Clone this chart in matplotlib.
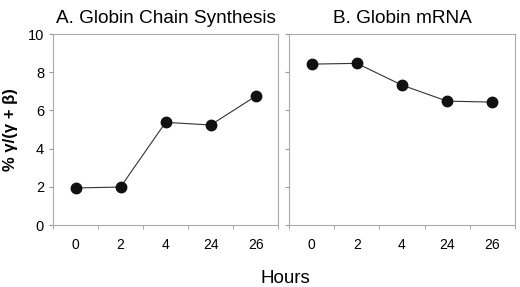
import matplotlib.pyplot as plt
import numpy as np

plt.rcParams["font.family"] = ["Liberation Sans", "DejaVu Sans"]

hours = ["0", "2", "4", "24", "26"]
chain_synthesis = [1.94, 1.99, 5.38, 5.24, 6.75]
globin_mrna = [8.43, 8.47, 7.33, 6.49, 6.44]

fig = plt.figure(figsize=(5.2, 2.87), dpi=100)
ax_a = fig.add_axes([0.102, 0.216, 0.433, 0.665])
ax_b = fig.add_axes([0.556, 0.216, 0.434, 0.665])

x = np.arange(len(hours))
for ax, vals, title in [
    (ax_a, chain_synthesis, "A. Globin Chain Synthesis"),
    (ax_b, globin_mrna, "B. Globin mRNA"),
]:
    ax.plot(x, vals, color="#333333", lw=0.8, marker="o", ms=7.5,
            mfc="#111111", mec="#111111")
    ax.set_xlim(-0.5, len(hours) - 0.5)
    ax.set_ylim(0, 10)
    ax.set_yticks(range(0, 11, 2))
    ax.set_xticks(x)
    ax.set_xticklabels(hours, fontsize=10)
    ax.set_xticks(np.arange(-0.5, len(hours), 1.0), minor=True)
    ax.tick_params(axis="x", which="major", length=0, pad=9)
    ax.tick_params(axis="x", which="minor", length=3, color="#999999")
    ax.tick_params(axis="y", length=3, color="#999999", labelsize=10.5)
    for s in ax.spines.values():
        s.set_color("#aaaaaa")
        s.set_linewidth(0.8)
    ax.set_title(title, fontsize=13.7, pad=8)

ax_b.set_yticklabels([])
ax_a.set_ylabel("% γ/(γ + β)", fontsize=12, fontweight="bold", labelpad=7)
fig.text(0.548, 0.015, "Hours", ha="center", fontsize=13.5)

fig.savefig("out.png", dpi=100)
